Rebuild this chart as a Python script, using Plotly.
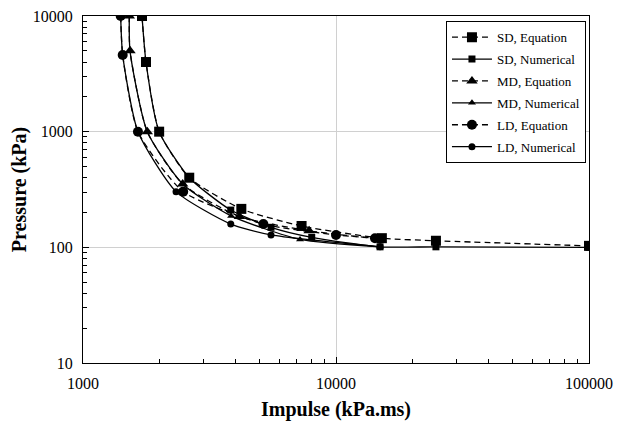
import plotly.graph_objects as go

# Data
sd_eq_x = [1711, 1774, 2000, 2630, 4225, 7310, 15180, 24830, 100000]
sd_eq_y = [10000, 4000, 1000, 400, 215, 153, 120, 114, 103]
sd_num_x = [1711, 1774, 2000, 2630, 3837, 5535, 8017, 14930, 24830, 100000]
sd_num_y = [10000, 4000, 1000, 400, 210, 149, 122, 101, 101, 100]

md_eq_x = [1524, 1534, 1795, 2477, 4150, 7830, 15000]
md_eq_y = [10000, 5000, 1000, 353, 185, 139, 118]
md_num_x = [1524, 1534, 1795, 2477, 3850, 7208, 14930]
md_num_y = [10000, 5000, 1000, 353, 187, 117, 101]

ld_eq_x = [1409, 1435, 1649, 2489, 5163, 10000, 14260]
ld_eq_y = [10000, 4600, 1000, 303, 159, 128, 120]
ld_num_x = [1409, 1435, 1649, 2332, 3837, 5535, 14930]
ld_num_y = [10000, 4600, 1000, 303, 159, 128, 101]

x_ticks = [1000, 10000, 100000]
y_ticks = [10, 100, 1000, 10000]

series = [
    ("SD, Equation", sd_eq_x, sd_eq_y, "square", True),
    ("SD, Numerical", sd_num_x, sd_num_y, "square", False),
    ("MD, Equation", md_eq_x, md_eq_y, "triangle-up", True),
    ("MD, Numerical", md_num_x, md_num_y, "triangle-up", False),
    ("LD, Equation", ld_eq_x, ld_eq_y, "circle", True),
    ("LD, Numerical", ld_num_x, ld_num_y, "circle", False),
]

fig = go.Figure()
for i, (name, xs, ys, sym, eq) in enumerate(series):
    fig.add_trace(go.Scatter(
        x=xs, y=ys, name=name, mode="lines+markers", legendgroup=f"g{i}",
        line=dict(color="black", width=1.3, dash="6px,4px" if eq else "solid",
                  shape="spline", smoothing=0.6),
        marker=dict(symbol=sym, size=10 if eq else 7, color="black"),
    ))


def minor_vals(majors):
    return [m * k for m in majors[:-1] for k in range(2, 10)]


font_family = "Liberation Serif, Times New Roman, serif"
axis_common = dict(
    type="log", showline=True, linecolor="black", linewidth=1.2, mirror=True,
    showgrid=True, gridcolor="#d0d0d0", gridwidth=1, zeroline=False,
    ticks="inside", ticklen=6, tickcolor="black", automargin=False,
    ticklabeloverflow="allow",
    tickfont=dict(family=font_family, size=16, color="black"),
)

# The page body has a default 8px margin, so the figure is sized to fit.
fig.update_layout(
    width=615, height=420,
    margin=dict(l=75, r=34, t=8, b=65),
    paper_bgcolor="white", plot_bgcolor="white",
    font=dict(family=font_family, color="black"),
    showlegend=True,
    legend=dict(
        x=0.994, y=0.985, xanchor="right", yanchor="top",
        bgcolor="white", bordercolor="black", borderwidth=1,
        font=dict(family=font_family, size=13, color="black"),
        traceorder="grouped", tracegroupgap=2, itemwidth=40,
    ),
    xaxis=dict(axis_common, range=[3, 5], tickvals=x_ticks,
               ticktext=[str(v) for v in x_ticks], ticklabelstandoff=6,
               minor=dict(ticks="inside", ticklen=4, tickcolor="black",
                          tickvals=minor_vals(x_ticks), showgrid=False),
               title=dict(text="<b>Impulse (kPa.ms)</b>",
                          font=dict(family=font_family, size=20), standoff=10)),
    yaxis=dict(axis_common, range=[1, 4], tickvals=y_ticks,
               ticktext=[str(v) for v in y_ticks], ticklabelstandoff=6,
               minor=dict(ticks="inside", ticklen=4, tickcolor="black",
                          tickvals=minor_vals(y_ticks), showgrid=False),
               title=dict(text="<b>Pressure (kPa)</b>",
                          font=dict(family=font_family, size=20), standoff=0)),
)

fig.write_html("out.html")
